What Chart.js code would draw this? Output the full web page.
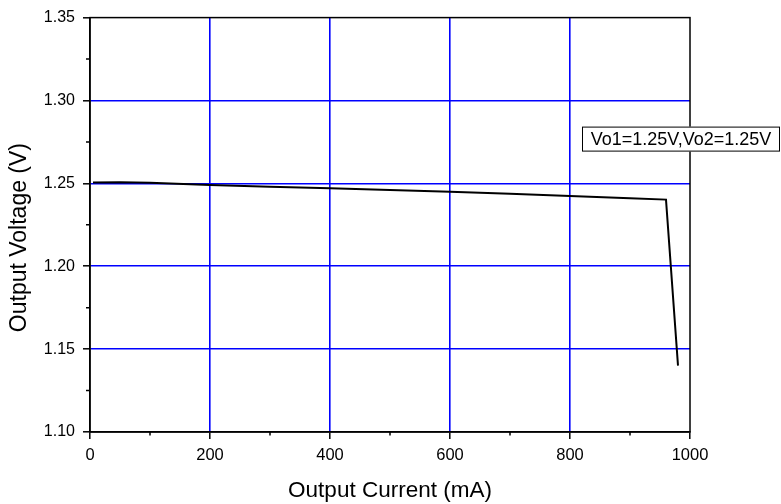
<!DOCTYPE html>
<html>
<head>
<meta charset="utf-8">
<script src="https://cdn.jsdelivr.net/npm/chart.js@4.4.1/dist/chart.umd.min.js"></script>
<style>
  html, body { margin: 0; padding: 0; background: #fff; }
  #wrap { width: 781px; height: 504px; }
</style>
</head>
<body>
<div id="wrap"><canvas id="load-canvas" width="781" height="504"></canvas></div>
<script>
// output current (mA) and output voltage (V)
let current = [5, 50, 100, 200, 300, 400, 500, 600, 700, 800, 900, 960, 980];
let voltage = [1.2505, 1.2507, 1.2503, 1.249, 1.248, 1.247, 1.246, 1.245, 1.2437, 1.2423, 1.241, 1.2402, 1.1400];
let note    = 'Vo1=1.25V,Vo2=1.25V';

let FONT = 'Liberation Sans, Arial, sans-serif';
let BLUE = '#0000ff';

let points = current.map((c, i) => ({x: c, y: voltage[i]}));

// frame, minor ticks and the note box
let extras = {
  id: 'extras',
  afterDraw(chart) {
    let ctx = chart.ctx;
    let a = chart.chartArea;
    let xs = chart.scales.x, ys = chart.scales.y;
    ctx.save();
    ctx.strokeStyle = '#000';
    ctx.lineWidth = 1.5;
    ctx.strokeRect(a.left, a.top, a.right - a.left, a.bottom - a.top);
    // minor ticks
    ctx.beginPath();
    xs.ticks.forEach((t, i) => {
      if (i % 2 === 1) {
        let px = xs.getPixelForValue(t.value);
        ctx.moveTo(px, a.bottom);
        ctx.lineTo(px, a.bottom + 3.5);
      }
    });
    ys.ticks.forEach((t, i) => {
      if (i % 2 === 1) {
        let py = ys.getPixelForValue(t.value);
        ctx.moveTo(a.left, py);
        ctx.lineTo(a.left - 4, py);
      }
    });
    ctx.stroke();
    // note box
    let bx = a.right - 108, by = a.top + 109, bw = 198, bh = 25;
    ctx.fillStyle = '#fff';
    ctx.fillRect(bx, by, bw, bh);
    ctx.lineWidth = 1;
    ctx.strokeRect(bx + 0.5, by + 0.5, bw - 1, bh - 1);
    ctx.fillStyle = '#000';
    ctx.font = '18px ' + FONT;
    ctx.textAlign = 'center';
    ctx.textBaseline = 'middle';
    ctx.fillText(note, bx + bw / 2, by + bh / 2 + 1);
    ctx.restore();
  }
};

let isMajor = (c) => c.index % 2 === 0;
let isEdge  = (c, n) => c.index === 0 || c.index === n;

var ctx = document.getElementById('load-canvas').getContext('2d');
window.loadChart = new Chart(ctx, {
  type: 'scatter',
  data: {
    datasets: [{
      data: points,
      showLine: true,
      borderColor: '#000',
      borderWidth: 2,
      pointRadius: 0,
      tension: 0
    }]
  },
  options: {
    responsive: false,
    animation: false,
    layout: { padding: { top: 16, right: 91, left: 0, bottom: 0 } },
    plugins: { legend: { display: false }, tooltip: { enabled: false } },
    scales: {
      x: {
        type: 'linear',
        min: 0, max: 1000,
        afterFit: (s) => { s.height = 72; },
        ticks: {
          stepSize: 100, autoSkip: false, maxRotation: 0,
          padding: 7, color: '#000',
          font: { family: FONT, size: 16.5 },
          callback: (v, i) => (i % 2 === 0 ? v : '')
        },
        grid: {
          color: (c) => (isMajor(c) && !isEdge(c, 10) ? BLUE : 'rgba(0,0,0,0)'),
          tickColor: (c) => (isMajor(c) ? '#000' : 'rgba(0,0,0,0)'),
          lineWidth: 1.6, tickWidth: 1.5, tickLength: 7
        },
        border: { color: '#000', width: 1.5 },
        title: {
          display: true, text: 'Output Current (mA)', color: '#000',
          font: { family: FONT, size: 22.5 }, padding: 0
        }
      },
      y: {
        type: 'linear',
        min: 1.10, max: 1.35,
        afterFit: (s) => { s.width = 90; },
        ticks: {
          stepSize: 0.025, autoSkip: false,
          padding: 8, color: '#000',
          font: { family: FONT, size: 16 },
          callback: (v, i) => (i % 2 === 0 ? v.toFixed(2) : '')
        },
        grid: {
          color: (c) => (isMajor(c) && !isEdge(c, 10) ? BLUE : 'rgba(0,0,0,0)'),
          tickColor: (c) => (isMajor(c) ? '#000' : 'rgba(0,0,0,0)'),
          lineWidth: 1.6, tickWidth: 1.5, tickLength: 7
        },
        border: { color: '#000', width: 1.5 },
        title: {
          display: true, text: 'Output Voltage (V)    ', color: '#000',
          font: { family: FONT, size: 23 }, padding: { top: 6, bottom: 0 }
        }
      }
    }
  },
  plugins: [extras]
});
</script>
</body>
</html>
